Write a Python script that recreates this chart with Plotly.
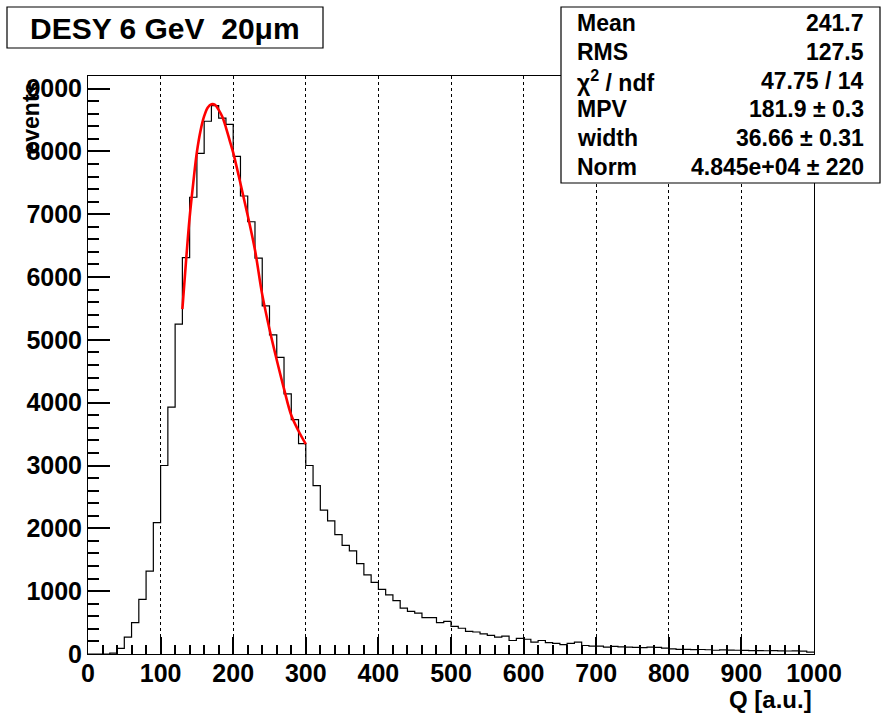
import numpy as np
import plotly.graph_objects as go

# ---- data ----
bin_width = 10
counts = [0, 0, 0, 15, 90, 270, 500, 870, 1320, 2090,
          3000, 3930, 5250, 6310, 7270, 7970, 8480, 8730, 8530, 8430,
          7920, 7290, 6880, 6300, 5540, 5080, 4720, 4140, 3730, 3350,
          3000, 2680, 2290, 2120, 1900, 1730, 1640, 1440, 1260, 1140,
          1030, 940, 850, 730, 680, 650, 580, 580, 500, 520,
          440, 410, 360, 350, 320, 295, 270, 285, 215, 250,
          235, 190, 215, 180, 170, 150, 170, 190, 135, 125,
          125, 110, 120, 115, 110, 105, 100, 110, 105, 95,
          80, 75, 75, 70, 72, 68, 60, 65, 62, 60,
          58, 55, 55, 52, 55, 50, 48, 50, 45, 30]
fit_x = [130, 135, 140, 145, 150, 155, 160, 165, 170, 175, 180, 185, 190, 195,
         200, 210, 220, 230, 240, 250, 260, 270, 280, 290, 300]
fit_y = [5490, 6250, 6950, 7500, 7990, 8330, 8560, 8700, 8750, 8740, 8660, 8550,
         8380, 8180, 7980, 7490, 6980, 6430, 5720, 5170, 4680, 4220, 3800, 3550, 3340]
x_range = [0, 1000]
y_range = [0, 9200]
x_major, x_minor = 100, 20
y_major, y_minor = 1000, 200
stat_labels = ["Mean", "RMS", "χ<sup>2</sup> / ndf", "MPV", "width", "Norm"]
stat_values = ["241.7", "127.5", "47.75 / 14", "181.9 ± 0.3", "36.66 ± 0.31", "4.845e+04 ± 220"]
title_text = "DESY 6 GeV  20μm"

FONT = "Liberation Sans"
W, H = 882, 713
L, R, T, B = 88, 68, 76, 59
pw, ph = W - L - R, H - T - B


def px_x(p):
    return (p - L) / pw


def px_y(p):
    return (H - B - p) / ph


edges = np.arange(0, len(counts) + 1) * bin_width
step_y = list(counts) + [counts[-1]]

fig = go.Figure()
fig.add_trace(go.Scatter(x=edges, y=step_y, mode="lines", line_shape="hv",
                         line=dict(color="black", width=1.2), hoverinfo="skip"))
fig.add_trace(go.Scatter(x=fit_x, y=fit_y, mode="lines", line_shape="spline",
                         line=dict(color="#ff0000", width=2.6), hoverinfo="skip"))

fig.update_layout(
    width=W, height=H,
    margin=dict(l=L, r=R, t=T, b=B),
    plot_bgcolor="white",
    showlegend=False,
)
fig.update_xaxes(
    range=x_range, tickmode="linear", tick0=0, dtick=x_major,
    ticks="inside", ticklen=17, tickwidth=2, tickcolor="black",
    minor=dict(tickmode="linear", tick0=0, dtick=x_minor, ticks="inside", ticklen=9,
               tickwidth=2, tickcolor="black", showgrid=False),
    showline=True, linecolor="black", mirror=True,
    gridcolor="black", griddash="dot", gridwidth=1,
    zerolinecolor="black", zerolinewidth=1,
    ticklabelstandoff=-3,
    tickfont=dict(family=FONT, size=25, color="black", weight="bold"),
)
fig.update_yaxes(
    range=y_range, tickmode="linear", tick0=0, dtick=y_major,
    ticks="inside", ticklen=22, tickwidth=2, tickcolor="black",
    minor=dict(tickmode="linear", tick0=0, dtick=y_minor, ticks="inside", ticklen=11,
               tickwidth=2, tickcolor="black", showgrid=False),
    showline=True, linecolor="black", mirror=True,
    gridcolor="rgba(0,0,0,0)",
    zerolinecolor="black", zerolinewidth=1,
    tickfont=dict(family=FONT, size=25, color="black", weight="bold"),
)

# axis titles
fig.add_annotation(text="<b>events</b>", xref="paper", yref="paper", x=px_x(30), y=px_y(80),
                   xanchor="center", yanchor="top", textangle=-90, showarrow=False,
                   font=dict(family=FONT, size=23, color="black"))
fig.add_annotation(text="<b>Q [a.u.]</b>", xref="paper", yref="paper", x=px_x(814), y=px_y(699),
                   xanchor="right", yanchor="middle", showarrow=False,
                   font=dict(family=FONT, size=24, color="black"))

# title box
fig.add_shape(type="rect", xref="paper", yref="paper",
              x0=px_x(7), x1=px_x(323), y0=px_y(48), y1=px_y(7),
              line=dict(color="black", width=1.2), fillcolor="white", layer="above")
fig.add_annotation(text="<b>" + title_text + "</b>", xref="paper", yref="paper", x=px_x(165), y=px_y(28),
                   xanchor="center", yanchor="middle", showarrow=False,
                   font=dict(family=FONT, size=30, color="black"))

# stats box
fig.add_shape(type="rect", xref="paper", yref="paper",
              x0=px_x(561), x1=px_x(880), y0=px_y(183), y1=px_y(7),
              line=dict(color="black", width=1.2), fillcolor="white", layer="above")
row_y = [23, 51.8, 80.6, 109.4, 138.2, 167]
for lab, val, ry in zip(stat_labels, stat_values, row_y):
    fig.add_annotation(text="<b>" + lab + "</b>", xref="paper", yref="paper", x=px_x(575), y=px_y(ry),
                       xanchor="left", yanchor="middle", showarrow=False,
                       font=dict(family=FONT, size=23, color="black"))
    fig.add_annotation(text="<b>" + val + "</b>", xref="paper", yref="paper", x=px_x(866), y=px_y(ry),
                       xanchor="right", yanchor="middle", showarrow=False,
                       font=dict(family=FONT, size=23, color="black"))

fig.write_html("out.html")
